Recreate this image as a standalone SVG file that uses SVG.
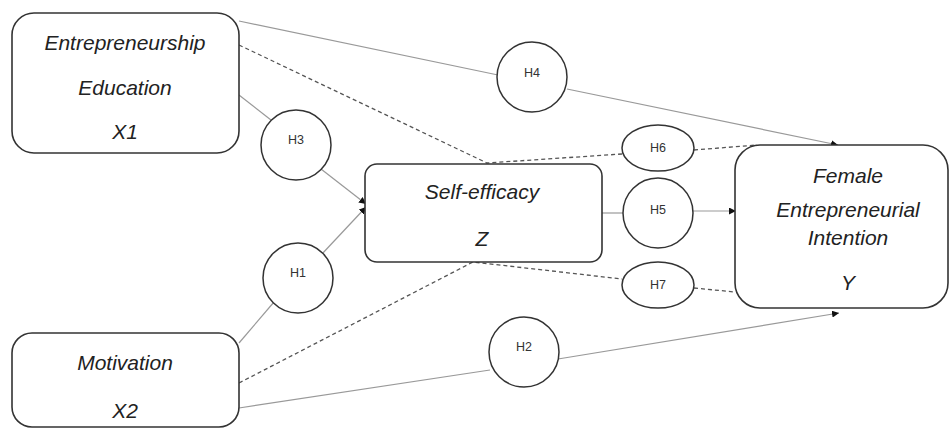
<svg xmlns="http://www.w3.org/2000/svg" width="952" height="429" viewBox="0 0 952 429">
<defs>
<marker id="ah" viewBox="0 0 10 10" refX="10" refY="5" markerWidth="7" markerHeight="7" markerUnits="userSpaceOnUse" orient="auto">
<path d="M0,0 L10,5 L0,10 z" fill="#111"/>
</marker>
<style>
.box{fill:#fff;stroke:#333;stroke-width:1.6}
.hyp{fill:#fff;stroke:#333;stroke-width:1.5}
.lbl{font-family:"Liberation Sans",Arial,sans-serif;font-style:italic;font-size:21px;fill:#222;text-anchor:middle}
.h{font-family:"Liberation Sans",Arial,sans-serif;font-size:12.5px;fill:#333;text-anchor:middle}
.ln{fill:none;stroke:#999;stroke-width:1.2}
.ar{fill:none;stroke:#999;stroke-width:1.2;marker-end:url(#ah)}
.ds{fill:none;stroke:#555;stroke-width:1.3;stroke-dasharray:4 3}
</style>
</defs>
<rect width="952" height="429" fill="#fff"/>
<g id="connectors">
<line class="ln" x1="239" y1="21" x2="498" y2="75"/>
<line class="ar" x1="567" y1="89" x2="838" y2="145"/>
<line class="ln" x1="239" y1="95" x2="271" y2="120"/>
<line class="ar" x1="321" y1="169" x2="366" y2="204"/>
<line class="ln" x1="239" y1="343" x2="274" y2="302"/>
<line class="ar" x1="322" y1="254" x2="366" y2="207"/>
<line class="ln" x1="602" y1="213" x2="623" y2="213"/>
<line class="ar" x1="693" y1="211" x2="736" y2="211"/>
<line class="ln" x1="239" y1="408" x2="490" y2="370"/>
<line class="ar" x1="558" y1="359" x2="839" y2="313"/>
<polyline class="ds" points="239,45 487,163 622,154"/>
<line class="ds" x1="694" y1="150" x2="757" y2="145"/>
<polyline class="ds" points="239,383 473,262 622,279"/>
<line class="ds" x1="694" y1="288" x2="735" y2="292"/>
</g>
<g id="x1">
<rect class="box" x="12" y="13" width="227" height="140" rx="22"/>
<text class="lbl" x="125" y="50">Entrepreneurship</text>
<text class="lbl" x="125" y="95">Education</text>
<text class="lbl" x="125" y="139">X1</text>
</g>
<g id="x2">
<rect class="box" x="12" y="333" width="227" height="94" rx="20"/>
<text class="lbl" x="125" y="370">Motivation</text>
<text class="lbl" x="125" y="418">X2</text>
</g>
<g id="z">
<rect class="box" x="365" y="164" width="237" height="98" rx="12"/>
<text class="lbl" x="482" y="199">Self-efficacy</text>
<text class="lbl" x="482" y="246">Z</text>
</g>
<g id="y">
<rect class="box" x="735" y="145" width="213" height="163" rx="25"/>
<text class="lbl" x="848" y="183">Female</text>
<text class="lbl" x="848" y="217">Entrepreneurial</text>
<text class="lbl" x="848" y="245">Intention</text>
<text class="lbl" x="848" y="290">Y</text>
</g>
<g id="h3"><circle class="hyp" cx="296" cy="145" r="35"/><text class="h" x="296" y="144">H3</text></g>
<g id="h1"><circle class="hyp" cx="298" cy="278" r="35"/><text class="h" x="298" y="277">H1</text></g>
<g id="h4"><circle class="hyp" cx="532" cy="77" r="35"/><text class="h" x="532" y="77">H4</text></g>
<g id="h2"><circle class="hyp" cx="524" cy="352" r="35"/><text class="h" x="524" y="351">H2</text></g>
<g id="h6"><ellipse class="hyp" cx="658" cy="148" rx="36" ry="23"/><text class="h" x="658" y="152">H6</text></g>
<g id="h5"><circle class="hyp" cx="658" cy="213" r="35"/><text class="h" x="658" y="214">H5</text></g>
<g id="h7"><ellipse class="hyp" cx="658" cy="285" rx="36" ry="23"/><text class="h" x="658" y="289">H7</text></g>
</svg>
